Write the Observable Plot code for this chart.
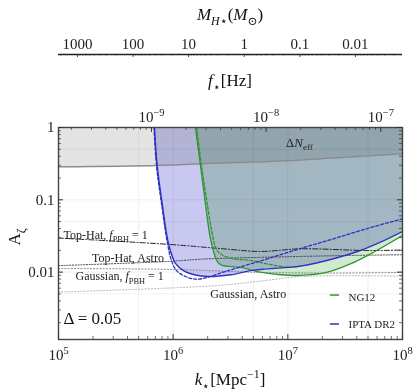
<!DOCTYPE html>
<html><head><meta charset="utf-8">
<script src="https://cdn.jsdelivr.net/npm/d3@7"></script>
<script src="https://cdn.jsdelivr.net/npm/@observablehq/plot@0.6"></script>
<style>
body{margin:0;background:#fff;}
#chart{width:416px;height:392px;position:relative;}
#chart svg{display:block;}
</style>
</head><body><div id="chart"></div>
<script>
// ---------------- data ----------------
const FK = 1.546e-15; // f[Hz] per k[Mpc^-1]
const kTicks = [1e5, 1e6, 1e7, 1e8];
const fTicks = [1e-9, 1e-8, 1e-7];
const aTicks = [0.01, 0.1, 1];
const mTicks = [1000, 100, 10, 1, 0.1, 0.01];

// IPTA DR2 (blue), solid and dashed
const blueK  = [6.87e5, 7.25e5, 8.02e5, 9.10e5, 1.047e6, 1.23e6, 1.565e6, 1.99e6, 3.16e6, 4.72e6, 6.6e6, 1.29e7, 2.5e7, 4.3e7, 6.42e7, 1e8];
const blueA  = [1, 0.298, 0.0889, 0.0249, 0.0132, 0.0105, 0.00912, 0.00869, 0.00918, 0.0105, 0.0111, 0.0121, 0.0153, 0.0199, 0.0259, 0.0364];
const blueDK = [6.80e5, 7.15e5, 7.91e5, 8.92e5, 9.66e5, 1.07e6, 1.28e6, 1.565e6, 1.91e6, 2.58e6, 3.86e6, 6.64e6, 1.29e7, 2.5e7, 4.94e7, 1e8];
const blueDA = [1, 0.298, 0.0889, 0.0249, 0.0145, 0.0105, 0.0087, 0.0080, 0.0083, 0.0097, 0.0118, 0.0153, 0.0212, 0.0289, 0.0401, 0.0546];
// NG12 (green), solid and dashed
const greenK  = [1.565e6, 1.73e6, 1.91e6, 2.09e6, 2.25e6, 2.43e6, 2.64e6, 3.86e6, 5.77e6, 8.62e6, 1.29e7, 2.21e7, 3.51e7, 5.58e7, 1e8];
const greenA  = [1, 0.298, 0.0889, 0.0321, 0.0193, 0.0140, 0.0125, 0.0116, 0.0100, 0.0092, 0.0090, 0.0100, 0.0130, 0.0188, 0.0321];
const greenDK = [1.6e6, 1.765e6, 1.98e6, 2.19e6, 2.34e6, 2.58e6, 3.36e6, 4.72e6, 6.6e6, 9.86e6, 1.29e7];
const greenDA = [1, 0.298, 0.0889, 0.0342, 0.0221, 0.0179, 0.0153, 0.0145, 0.0130, 0.0117, 0.0121];
// Delta N_eff bound
const neffK = [1e5, 7.3e5, 2.11e6, 8.62e6, 2.87e7, 1e8];
const neffA = [0.286, 0.298, 0.320, 0.344, 0.385, 0.433];
// PBH thresholds
const thFK = [1e5, 9.47e5, 2.745e6, 5.77e6, 1.29e7, 4.94e7, 1e8];
const thFA = [0.0296, 0.0241, 0.0210, 0.0193, 0.0210, 0.0199, 0.0202];
const thAK = [1e5, 8.57e5, 1.91e6, 5.77e6, 3.51e7, 1e8];
const thAA = [0.0123, 0.0140, 0.0152, 0.0160, 0.0170, 0.0174];
const gFK  = [1e5, 9.47e5, 5.77e6, 2.35e7, 1e8];
const gFA  = [0.0112, 0.0109, 0.0099, 0.0097, 0.0099];
const gAK  = [1e5, 2.34e6, 6.6e6, 1.29e7, 1e8];
const gAA  = [0.0053, 0.0065, 0.0077, 0.0087, 0.0088];

// ---------------- helpers ----------------
const rows = (K, A) => K.map((k, i) => ({k, a: A[i]}));
const FONT = "'Liberation Serif','DejaVu Serif',serif";
const BLUE = "#2f2fc4", GREEN = "#2e962e";
function minors(e0, e1, lo, hi) {
  const out = [];
  for (let e = e0; e < e1; e++) for (let m = 2; m <= 9; m++) {
    const v = m * Math.pow(10, e);
    if (v >= lo && v <= hi) out.push(v);
  }
  return out;
}
const supLabel = e => `10^{${String(e).replace("-", "−")}}`;

const W = 416, FW = 344, FH = 212;
const aDomain = [0.00117, 1];
const mDomain = [2188, 0.001422];

// ---------------- M_H axis (separate scale) ----------------
const mPlot = Plot.plot({
  width: W, height: 62, marginTop: 54, marginBottom: 5, marginLeft: 58, marginRight: 14,
  style: {fontFamily: FONT, fontSize: "15px", background: "white", color: "#222", overflow: "visible"},
  x: {type: "log", domain: mDomain},
  y: {domain: [0, 1], axis: null},
  marks: [
    Plot.ruleY([1], {stroke: "#222", strokeWidth: 1.3}),
    Plot.tickX(mTicks, {x: d => d, stroke: "#222", strokeWidth: 0.8}),
    Plot.tickX(minors(-3, 4, mDomain[1], mDomain[0]), {x: d => d, stroke: "#222", strokeWidth: 0.6, insetBottom: 1.5}),
    Plot.axisX({anchor: "top", ticks: mTicks, tickSize: 0, tickPadding: 6, tickFormat: d => String(d), label: null, fontSize: 15, fill: "#222"})
  ]
});

// ---------------- main plot ----------------
const kMinor = minors(5, 8, 1e5, 1e8);
const fMajK = fTicks.map(f => f / FK);
const fMinK = minors(-10, -7, 1e5 * FK, 1e8 * FK).map(f => f / FK);
const aMinor = minors(-3, 0, aDomain[0], 1);

const main = Plot.plot({
  width: W, height: 330, marginTop: 65, marginBottom: 53, marginLeft: 58, marginRight: 14,
  style: {fontFamily: FONT, fontSize: "15px", background: "white", color: "#222", overflow: "visible"},
  x: {type: "log", domain: [1e5, 1e8]},
  y: {type: "log", domain: aDomain},
  marks: [
    Plot.ruleX([5e5, 1e6, 5e6, 1e7, 5e7], {x: d => d, stroke: "#ececec", strokeWidth: 0.8}),
    Plot.ruleY([0.005, 0.01, 0.05, 0.1, 0.5], {y: d => d, stroke: "#ececec", strokeWidth: 0.8}),
    // filled regions
    Plot.areaY(rows(neffK, neffA), {x: "k", y1: "a", y2: 1, fill: "#e4e4e4", curve: "catmull-rom", mixBlendMode: "multiply"}),
    Plot.areaY(rows(blueK, blueA), {x: "k", y1: "a", y2: 1, fill: "#c8c8f0", curve: "catmull-rom", mixBlendMode: "multiply"}),
    Plot.areaY(rows(greenK, greenA), {x: "k", y1: "a", y2: 1, fill: "#d0ead0", curve: "catmull-rom", mixBlendMode: "multiply"}),
    // threshold lines
    Plot.line(rows(gAK, gAA), {x: "k", y: "a", stroke: "#b0b0b0", strokeWidth: 1, strokeDasharray: "1.2,2", curve: "catmull-rom"}),
    Plot.line(rows(gFK, gFA), {x: "k", y: "a", stroke: "#808080", strokeWidth: 1, strokeDasharray: "1.2,2", curve: "catmull-rom"}),
    Plot.line(rows(thAK, thAA), {x: "k", y: "a", stroke: "#444", strokeWidth: 1, strokeDasharray: "1.2,1.6", curve: "catmull-rom"}),
    Plot.line(rows(thFK, thFA), {x: "k", y: "a", stroke: "#222", strokeWidth: 1, strokeDasharray: "5,2,1.2,2", curve: "catmull-rom"}),
    // N_eff line
    Plot.line(rows(neffK, neffA), {x: "k", y: "a", stroke: "#8c8c8c", strokeWidth: 1.5, curve: "catmull-rom"}),
    // PTA curves
    Plot.line(rows(greenDK, greenDA), {x: "k", y: "a", stroke: GREEN, strokeWidth: 1.3, strokeDasharray: "3,2", curve: "catmull-rom", clip: true}),
    Plot.line(rows(greenK, greenA), {x: "k", y: "a", stroke: GREEN, strokeWidth: 1.3, curve: "catmull-rom", clip: true}),
    Plot.line(rows(blueDK, blueDA), {x: "k", y: "a", stroke: BLUE, strokeWidth: 1.3, strokeDasharray: "3,2", curve: "catmull-rom", clip: true}),
    Plot.line(rows(blueK, blueA), {x: "k", y: "a", stroke: BLUE, strokeWidth: 1.4, curve: "catmull-rom", clip: true}),
    // annotations
    Plot.text([{k: 1.106e5, a: 0.0326, t: "Top-Hat, $f$_{PBH} = 1"}], {x: "k", y: "a", text: "t", textAnchor: "start", fontSize: 12, fill: "#222"}),
    Plot.text([{k: 8.3e5, a: 0.0157, t: "Top-Hat, Astro"}], {x: "k", y: "a", text: "t", textAnchor: "end", fontSize: 12, fill: "#222"}),
    Plot.text([{k: 8.3e5, a: 0.0087, t: "Gaussian, $f$_{PBH} = 1"}], {x: "k", y: "a", text: "t", textAnchor: "end", fontSize: 12, fill: "#222"}),
    Plot.text([{k: 2.11e6, a: 0.00498, t: "Gaussian, Astro"}], {x: "k", y: "a", text: "t", textAnchor: "start", fontSize: 12, fill: "#222"}),
    Plot.text([{k: 1.26e7, a: 0.62, t: "Δ$N$_{eff}"}], {x: "k", y: "a", text: "t", textAnchor: "middle", fontSize: 13, fill: "#222"}),
    Plot.text([{k: 1.106e5, a: 0.00228, t: "Δ = 0.05"}], {x: "k", y: "a", text: "t", textAnchor: "start", fontSize: 17, fill: "#111"}),
    // legend
    Plot.ruleY([{k1: 2.35e7, k2: 2.82e7, a: 0.00482}], {y: "a", x1: "k1", x2: "k2", stroke: GREEN, strokeWidth: 1.5}),
    Plot.ruleY([{k1: 2.35e7, k2: 2.82e7, a: 0.001915}], {y: "a", x1: "k1", x2: "k2", stroke: BLUE, strokeWidth: 1.5}),
    Plot.text([{k: 3.38e7, a: 0.00445, t: "NG12"}, {k: 3.38e7, a: 0.00186, t: "IPTA DR2"}], {x: "k", y: "a", text: "t", textAnchor: "start", fontSize: 11, fill: "#222"}),
    // frame and inward ticks
    Plot.frame({stroke: "#444", strokeWidth: 1.4}),
    Plot.tickX(kTicks, {x: d => d, insetTop: FH - 5, stroke: "#333"}),
    Plot.tickX(kMinor, {x: d => d, insetTop: FH - 3, stroke: "#333", strokeWidth: 0.7}),
    Plot.tickX(fMajK, {x: d => d, insetBottom: FH - 5, stroke: "#333"}),
    Plot.tickX(fMinK, {x: d => d, insetBottom: FH - 3, stroke: "#333", strokeWidth: 0.7}),
    Plot.tickY(aTicks, {y: d => d, insetRight: FW - 5, stroke: "#333"}),
    Plot.tickY(aMinor, {y: d => d, insetRight: FW - 3, stroke: "#333", strokeWidth: 0.7}),
    Plot.tickY(aTicks, {y: d => d, insetLeft: FW - 5, stroke: "#333"}),
    Plot.tickY(aMinor, {y: d => d, insetLeft: FW - 3, stroke: "#333", strokeWidth: 0.7}),
    // axes
    Plot.axisX({anchor: "bottom", ticks: kTicks, tickSize: 0, tickPadding: 10, tickFormat: d => supLabel(Math.round(Math.log10(d))), label: null, fontSize: 15, fill: "#222"}),
    Plot.text(fMajK, {x: d => d, frameAnchor: "top", lineAnchor: "middle", dy: -10, text: d => supLabel(Math.round(Math.log10(d * FK))), fontSize: 15, fill: "#222"}),
    Plot.axisY({anchor: "left", ticks: aTicks, tickSize: 0, tickPadding: 4, tickFormat: d => String(d), label: null, fontSize: 15, fill: "#222"})
  ]
});

const chart = document.getElementById("chart");
chart.appendChild(mPlot);
chart.appendChild(main);

// axis titles
const ns = "http://www.w3.org/2000/svg";
function addText(svg, str, x, y, size, opts = {}) {
  const t = document.createElementNS(ns, "text");
  t.setAttribute("x", x); t.setAttribute("y", y);
  t.setAttribute("font-size", size);
  t.setAttribute("text-anchor", opts.anchor || "middle");
  t.setAttribute("fill", "#111");
  if (opts.transform) { t.setAttribute("transform", opts.transform); t.setAttribute("x", 0); t.setAttribute("y", 0); }
  t.textContent = str;
  svg.appendChild(t);
}
addText(mPlot, "$M$_{$H$⋆}($M$_{⊙})", 230, 20, 17);
addText(main, "$f$_{⋆}[Hz]", 230, 24, 17);
addText(main, "$k$_{⋆}[Mpc^{−1}]", 230, 323, 17);
addText(main, "A_{ζ}", 0, 0, 17, {transform: "translate(20,175) rotate(-90)"});

// rich text: $..$ italic, _{..} subscript, ^{..} superscript
function parse(s) {
  const segs = []; let it = false, lev = 0, cur = "";
  const push = () => { if (cur) segs.push({t: cur, it, lev}); cur = ""; };
  for (let i = 0; i < s.length; i++) {
    const c = s[i];
    if (c === "$") { push(); it = !it; continue; }
    if ((c === "_" || c === "^") && s[i + 1] === "{") { push(); lev = c === "_" ? -1 : 1; i++; continue; }
    if (c === "}" && lev !== 0) { push(); lev = 0; continue; }
    cur += c;
  }
  push();
  return segs;
}
function richify(svg) {
  svg.querySelectorAll("text").forEach(el => {
    const s = el.textContent;
    if (!/[$_^]/.test(s)) return;
    const base = parseFloat(getComputedStyle(el).fontSize) || 12;
    const segs = parse(s);
    el.textContent = "";
    let off = 0;
    for (const g of segs) {
      const ts = document.createElementNS(ns, "tspan");
      const target = g.lev < 0 ? 0.28 * base : g.lev > 0 ? -0.42 * base : 0;
      const dy = target - off; off = target;
      if (dy) ts.setAttribute("dy", dy);
      if (g.lev) ts.setAttribute("font-size", 0.7 * base);
      if (g.it) ts.setAttribute("font-style", "italic");
      ts.textContent = g.t;
      el.appendChild(ts);
    }
  });
}
richify(mPlot); richify(main);
main.querySelectorAll('g[aria-label="area"]').forEach(g => g.style.mixBlendMode = "multiply");
</script>
</body></html>
